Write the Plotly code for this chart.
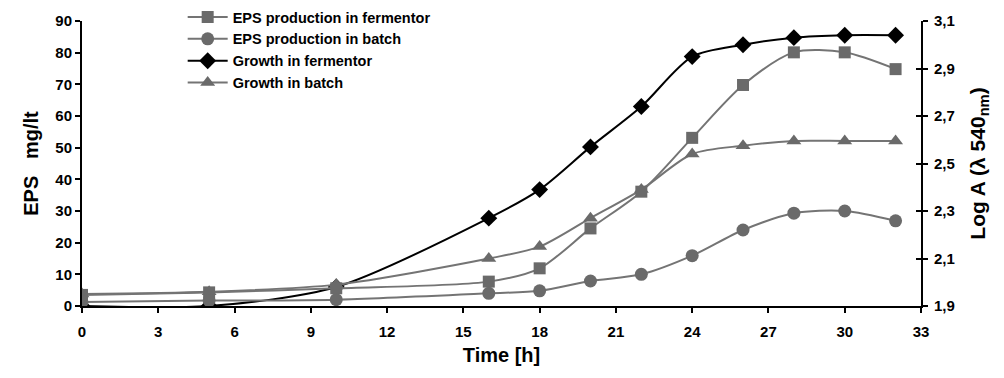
import plotly.graph_objects as go

time_h = [0, 5, 10, 16, 18, 20, 22, 24, 26, 28, 30, 32]
eps_fermentor = [3.5, 4.3, 5.6, 7.7, 11.9, 24.5, 36.1, 53.1, 69.8, 80.1, 80.1, 74.8]
eps_batch = [1.3, 1.7, 2.0, 4.0, 4.8, 7.9, 10.0, 15.9, 24.0, 29.3, 30.0, 26.9]
growth_fermentor = [1.90, 1.90, 1.98, 2.27, 2.39, 2.57, 2.74, 2.95, 3.00, 3.03, 3.04, 3.04]
growth_batch = [1.95, 1.96, 1.99, 2.10, 2.15, 2.27, 2.39, 2.54, 2.575, 2.595, 2.595, 2.595]

x_ticks = list(range(0, 34, 3))
eps_ticks = list(range(0, 91, 10))
loga_ticks = [1.9, 2.1, 2.3, 2.5, 2.7, 2.9, 3.1]
loga_ticktext = ["1,9", "2,1", "2,3", "2,5", "2,7", "2,9", "3,1"]

GRAY_M = "#6a6a6a"
GRAY_L = "#747474"
FONT = "Arial, Liberation Sans, sans-serif"

fig = go.Figure()

# Growth traces on right axis (y)
fig.add_trace(go.Scatter(
    x=time_h, y=growth_fermentor, name="Growth in fermentor", yaxis="y",
    mode="lines+markers", line=dict(color="#000000", width=2, shape="spline", smoothing=0.8),
    marker=dict(symbol="diamond", size=13, color="#000000"), legendrank=3))
fig.add_trace(go.Scatter(
    x=time_h, y=growth_batch, name="Growth in batch", yaxis="y",
    mode="lines+markers", line=dict(color=GRAY_L, width=2, shape="spline", smoothing=0.8),
    marker=dict(symbol="triangle-up", size=13, color=GRAY_M), legendrank=4))
# EPS traces on left axis (y2)
fig.add_trace(go.Scatter(
    x=time_h, y=eps_fermentor, name="EPS production in fermentor", yaxis="y2",
    mode="lines+markers", line=dict(color=GRAY_L, width=2, shape="spline", smoothing=0.8),
    marker=dict(symbol="square", size=12, color=GRAY_M), legendrank=1))
fig.add_trace(go.Scatter(
    x=time_h, y=eps_batch, name="EPS production in batch", yaxis="y2",
    mode="lines+markers", line=dict(color=GRAY_L, width=2, shape="spline", smoothing=0.8),
    marker=dict(symbol="circle", size=13, color=GRAY_M), legendrank=2))
# empty trace to carry the inner-tick overlay of the right axis
fig.add_trace(go.Scatter(x=[], y=[], yaxis="y3", showlegend=False, hoverinfo="skip"))

TICKFONT = dict(family=FONT, size=15, color="#000000", weight="bold")

def title_font(size):
    return dict(family=FONT, size=size, color="#000000", weight="bold")

axis_common = dict(showgrid=False, zeroline=False, showline=True, linecolor="#000000",
                   linewidth=2, ticks="outside", ticklen=5, tickwidth=2, tickcolor="#000000",
                   tickfont=TICKFONT)

fig.update_layout(
    width=1004, height=378,
    margin=dict(l=82, r=83, t=21, b=72, autoexpand=False),
    paper_bgcolor="white", plot_bgcolor="white",
    font=dict(family=FONT, color="#000000"),
    xaxis=dict(range=[0, 33], tickvals=x_ticks, ticklabelstandoff=6, automargin=False, **axis_common,
               title=dict(text="Time [h]", font=title_font(20), standoff=9)),
    yaxis=dict(range=[1.9, 3.1], tickvals=loga_ticks, ticktext=loga_ticktext, side="right",
               ticklabelstandoff=3, automargin=False, **axis_common,
               title=dict(text="Log A (λ 540<sub>nm</sub>)", font=title_font(21), standoff=16)),
    yaxis2=dict(range=[0, 90], tickvals=eps_ticks, side="left", overlaying="y", anchor="x",
                automargin=False, **axis_common,
                title=dict(text="EPS\u00a0\u00a0\u00a0mg/lt", font=title_font(20), standoff=11)),
    yaxis3=dict(range=[1.9, 3.1], tickvals=loga_ticks, side="right", overlaying="y", anchor="x",
                showgrid=False, zeroline=False, showline=False, showticklabels=False,
                ticks="inside", ticklen=5, tickwidth=2, tickcolor="#000000"),
    legend=dict(x=0.12, y=1.07, xanchor="left", yanchor="top", bgcolor="rgba(0,0,0,0)",
                font=dict(family=FONT, size=14.5, color="#000000", weight="bold"),
                tracegroupgap=0, itemwidth=40),
    showlegend=True,
)

fig.write_html("out.html")
